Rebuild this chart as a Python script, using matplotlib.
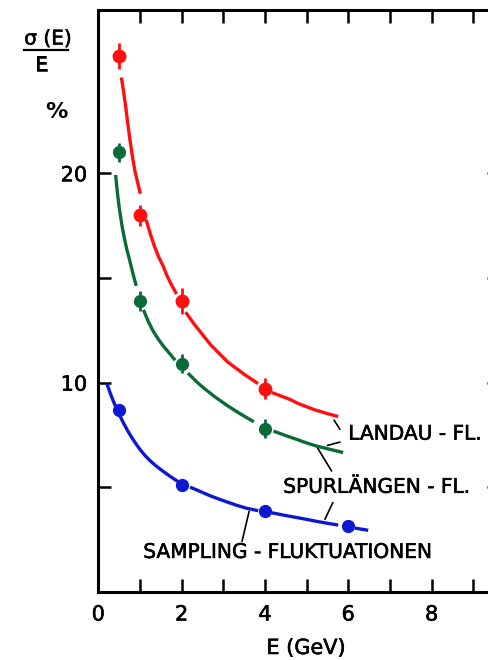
import numpy as np
import matplotlib

matplotlib.use("Agg")
import matplotlib.pyplot as plt
import matplotlib.patheffects as pe
from matplotlib.lines import Line2D

RED = "#ff1010"
GREEN = "#0a6b38"
BLUE = "#0c18d2"

# measured resolution points (E in GeV, sigma/E in %)
landau_e = [0.5, 1.0, 2.0, 4.0]
landau_res = [25.6, 18.0, 13.9, 9.7]
landau_err = [0.6, 0.5, 0.6, 0.5]

spur_e = [0.5, 1.0, 2.0, 4.0]
spur_res = [21.0, 13.9, 10.9, 7.8]
spur_err = [0.45, 0.5, 0.45, 0.45]

sampling_e = [0.5, 2.0, 4.0, 6.0]
sampling_res = [8.7, 5.1, 3.85, 3.15]

# fitted curves, broken (nan) where they pass behind a data point
landau_curve_e = [0.56, 0.60, 0.65, 0.70, 0.76, 0.82, 0.88, 0.94, 1.00, np.nan,
                  1.16, 1.25, 1.35, 1.45, 1.55, 1.65, 1.75, 1.86, np.nan,
                  2.12, 2.30, 2.50, 2.70, 2.90, 3.10, 3.30, 3.50, 3.80, np.nan,
                  4.20, 4.40, 4.60, 4.80, 5.00, 5.20, 5.45, 5.72]
landau_curve = [24.5, 24.0, 23.3, 22.5, 21.6, 20.8, 20.1, 19.6, 19.1, np.nan,
                17.7, 17.1, 16.5, 16.0, 15.6, 15.1, 14.7, 14.3, np.nan,
                13.3, 12.8, 12.3, 11.8, 11.4, 11.0, 10.7, 10.4, 10.0, np.nan,
                9.5, 9.35, 9.2, 9.0, 8.85, 8.7, 8.55, 8.4]

spur_curve_e = [0.42, 0.46, 0.50, 0.56, 0.62, 0.68, 0.74, 0.82, 0.90, np.nan,
                1.10, 1.20, 1.32, 1.44, 1.56, 1.70, 1.82, np.nan,
                2.18, 2.35, 2.52, 2.80, 3.10, 3.40, 3.70, np.nan,
                4.24, 4.50, 4.75, 5.00, 5.24, 5.55, 5.84]
spur_curve = [19.84, 19.05, 18.4, 17.6, 16.95, 16.4, 15.95, 15.3, 14.7, np.nan,
              13.4, 12.92, 12.45, 12.08, 11.75, 11.42, 11.13, np.nan,
              10.40, 10.06, 9.76, 9.32, 8.9, 8.52, 8.17, np.nan,
              7.66, 7.47, 7.3, 7.12, 6.97, 6.82, 6.68]

sampling_curve_e = [0.22, 0.29, 0.36, 0.44, 0.52, 0.60, 0.70, 0.80, 0.90, 1.00,
                    1.13, 1.26, 1.40, 1.56, 1.72, 1.88, np.nan,
                    2.24, 2.46, 2.68, 2.92, 3.12, 3.34, 3.56, 3.80, np.nan,
                    4.20, 4.45, 4.70, 5.00, 5.25, 5.48, 5.72, np.nan,
                    6.20, 6.44]
sampling_curve = [9.87, 9.48, 9.12, 8.75, 8.41, 8.09, 7.72, 7.39, 7.09, 6.81,
                  6.5, 6.24, 6.0, 5.76, 5.53, 5.32, np.nan,
                  4.98, 4.79, 4.6, 4.42, 4.28, 4.13, 4.0, 3.9, np.nan,
                  3.77, 3.67, 3.58, 3.47, 3.37, 3.29, 3.21, np.nan,
                  3.04, 2.96]

plt.rcParams["font.family"] = "DejaVu Sans"
heavy = [pe.withStroke(linewidth=0.4, foreground="black")]

fig = plt.figure(figsize=(4.88, 6.60), dpi=100)
W, H = 488.0, 660.0
# right spine sits just outside the canvas
ax = fig.add_axes([98.3 / W, 68.0 / H, 402.0 / W, 582.0 / H])
ax.set_xlim(0, 9.65)
ax.set_ylim(0, 27.8)

for s in ax.spines.values():
    s.set_linewidth(2.2)
ax.set_xticks([0, 2, 4, 6, 8])
ax.set_xticks([1, 3, 5, 7, 9], minor=True)
ax.set_yticks([10, 20])
ax.set_yticks([5, 15], minor=True)
ax.tick_params(which="both", direction="in", top=True, right=True,
               length=9.5, width=1.8, labelsize=15)
ax.tick_params(axis="x", which="major", pad=9)
ax.tick_params(axis="y", which="major", pad=8)
for lbl in ax.get_xticklabels() + ax.get_yticklabels():
    lbl.set_path_effects(heavy)

ax.plot(sampling_curve_e, sampling_curve, color=BLUE, lw=2.4, zorder=2)
ax.plot(sampling_e, sampling_res, "o", color=BLUE, ms=8.5, zorder=3)

ax.plot(spur_curve_e, spur_curve, color=GREEN, lw=2.4, zorder=4)
ax.errorbar(spur_e, spur_res, yerr=spur_err, fmt="o", color=GREEN, ms=8.5,
            elinewidth=2.0, capsize=0, zorder=5)

ax.plot(landau_curve_e, landau_curve, color=RED, lw=2.4, zorder=6)
ax.errorbar(landau_e, landau_res, yerr=landau_err, fmt="o", color=RED, ms=9,
            elinewidth=2.0, capsize=0, zorder=7)

# curve labels with leader lines
label_kw = dict(fontsize=14.5, va="center", ha="left", path_effects=heavy)
ax.text(6.0, 7.54, "LANDAU - FL.", **label_kw)
ax.text(4.44, 5.0, "SPURLÄNGEN - FL.", **label_kw)
ax.text(1.08, 1.89, "SAMPLING - FLUKTUATIONEN", **label_kw)

leader = dict(arrowstyle="-", lw=1.2, color="black", shrinkA=0, shrinkB=0)
for start, end in [((5.66, 8.21), (5.80, 7.77)),
                   ((5.50, 7.00), (5.80, 7.16)),
                   ((5.26, 6.89), (5.60, 5.78)),
                   ((5.44, 3.47), (5.63, 4.27)),
                   ((3.62, 3.85), (3.45, 2.42))]:
    ax.annotate("", xy=start, xytext=end, arrowprops=leader)

# axis titles
fig.text(306 / W, 1 - 648 / H, "E (GeV)", fontsize=15, ha="center", va="center",
         path_effects=heavy)
fig.text(48 / W, 1 - 39 / H, "σ (E)", fontsize=14.5, ha="center", va="center",
         path_effects=heavy)
fig.add_artist(Line2D([24 / W, 68.3 / W], [1 - 50 / H, 1 - 50 / H],
                      color="black", lw=1.6, transform=fig.transFigure))
fig.text(41.5 / W, 1 - 65.5 / H, "E", fontsize=14.5, ha="center", va="center",
         path_effects=heavy)
fig.text(56.5 / W, 1 - 112 / H, "%", fontsize=16, weight="bold", ha="center", va="center")

fig.savefig("out.png", dpi=100)
